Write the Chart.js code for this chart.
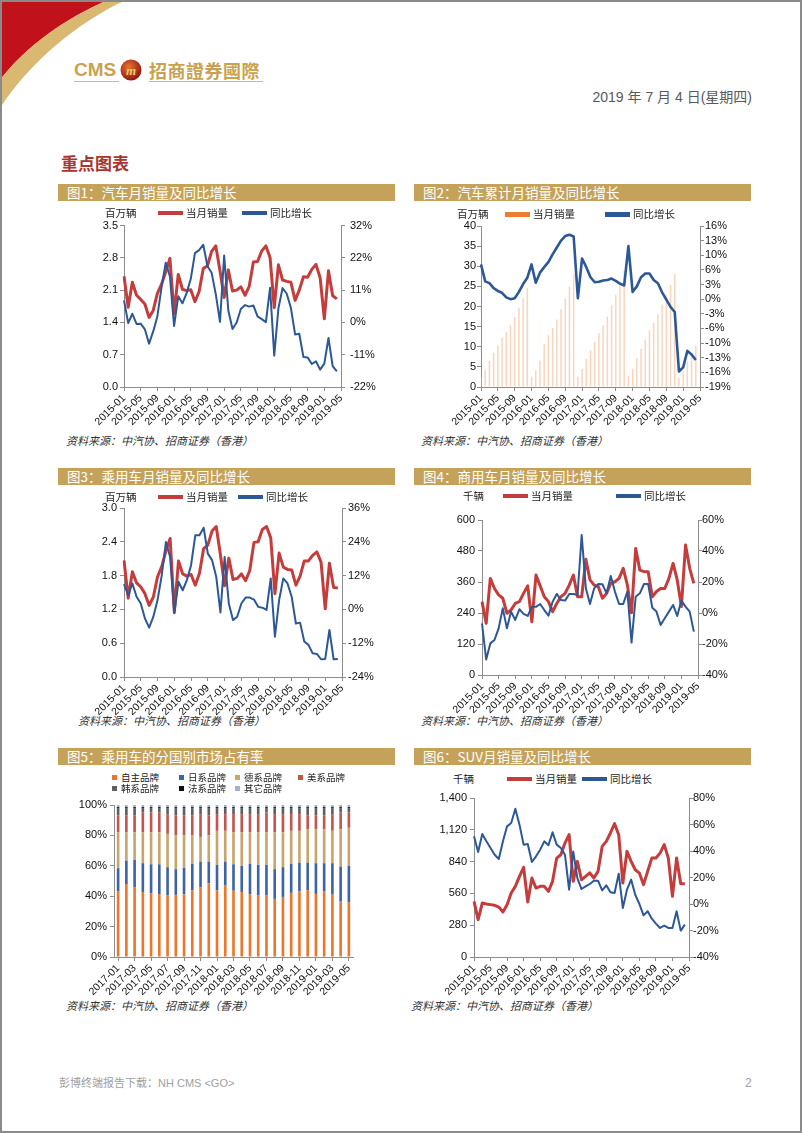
<!DOCTYPE html>
<html lang="zh-CN">
<head>
<meta charset="utf-8">
<title>重点图表</title>
<script src="https://cdn.jsdelivr.net/npm/chart.js@4.4.1/dist/chart.umd.min.js"></script>
<style>
  html, body { margin: 0; padding: 0; background: #fff; }
  #page { position: relative; width: 802px; height: 1133px; overflow: hidden; background: #fff;
          font-family: "Noto Sans CJK SC", "Liberation Sans", sans-serif; }
  #page > * { position: absolute; }
  #frame { left: 0; top: 0; width: 802px; height: 1133px; box-sizing: border-box; border: 2px solid #8a8a8a; }
  .bar { height: 17px; width: 337px; background: #c4a25a; color: #fff; font-size: 13.5px; line-height: 17px;
         padding-left: 9px; box-sizing: border-box; white-space: nowrap; }
  .src { font-size: 11px; line-height: 14px; font-style: italic; color: #333; white-space: nowrap; }
  .legend { display: flex; align-items: center; height: 14px; font-size: 10.5px; line-height: 14px; color: #222; white-space: nowrap; }
  .legend span { display: inline-flex; align-items: center; }
  .legend i { display: inline-block; margin-right: 3px; }
  .unit { font-size: 10.5px; line-height: 14px; color: #222; white-space: nowrap; }
</style>
</head>
<body>
<div id="page">
  <svg style="left:0;top:0" width="140" height="120">
    <path d="M0,0 H108 C66,18 26,46 0,80 Z" fill="#c1121c"/>
    <path d="M108,0 H126 C78,22 30,62 0,108 V80 C26,46 66,18 108,0 Z" fill="#d9b872"/>
  </svg>
  <div style="left:74px;top:60px;font:bold 19px/20px 'Liberation Sans',sans-serif;color:#c9a24f">CMS</div>
  <svg style="left:120px;top:59px" width="22" height="22">
    <defs><radialGradient id="ball" cx="40%" cy="35%" r="65%"><stop offset="0" stop-color="#e8742e"/><stop offset="1" stop-color="#8e1b12"/></radialGradient></defs>
    <circle cx="11" cy="11" r="10.5" fill="url(#ball)"/>
    <text x="11" y="15.5" text-anchor="middle" font-size="13" font-style="italic" font-weight="bold" fill="#f3c86a" font-family="Liberation Serif">m</text>
  </svg>
  <div style="left:149px;top:60px;font-size:18px;line-height:20px;font-weight:700;letter-spacing:0.5px;color:#c9a24f">招商證券國際</div>
  <div style="left:74px;top:81px;width:45px;height:1px;background:#d7b774"></div>
  <div style="left:149px;top:81px;width:114px;height:1px;background:#d7b774"></div>
  <div style="left:540px;top:89px;width:212px;text-align:right;font-size:14px;line-height:16px;color:#595959;font-family:'Liberation Sans','Noto Sans CJK SC',sans-serif">2019 年 7 月 4 日(星期四)</div>
  <div style="left:61px;top:153px;font-size:17px;line-height:20px;font-weight:700;color:#a8352f">重点图表</div>

  <div class="bar" style="left:58px;top:184px">图1：汽车月销量及同比增长</div>
  <div class="bar" style="left:414px;top:184px">图2：汽车累计月销量及同比增长</div>
  <div class="bar" style="left:58px;top:468px">图3：乘用车月销量及同比增长</div>
  <div class="bar" style="left:414px;top:468px">图4：商用车月销量及同比增长</div>
  <div class="bar" style="left:58px;top:748px">图5：乘用车的分国别市场占有率</div>
  <div class="bar" style="left:414px;top:748px">图6：SUV月销量及同比增长</div>

  <div class="src" style="left:66px;top:433px">资料来源：中汽协、招商证券（香港）</div>
  <div class="src" style="left:421px;top:433px">资料来源：中汽协、招商证券（香港）</div>
  <div class="src" style="left:78px;top:713px">资料来源：中汽协、招商证券（香港）</div>
  <div class="src" style="left:421px;top:713px">资料来源：中汽协、招商证券（香港）</div>
  <div class="src" style="left:66px;top:998px">资料来源：中汽协、招商证券（香港）</div>
  <div class="src" style="left:411px;top:998px">资料来源：中汽协、招商证券（香港）</div>

  <div style="left:59px;top:1076px;font-size:11px;line-height:14px;color:#a0a0a0;font-family:'Liberation Sans','Noto Sans CJK SC',sans-serif">彭博终端报告下载：NH CMS &lt;GO&gt;</div>
  <div style="left:745px;top:1076px;font-size:12px;line-height:14px;color:#a0a0a0;font-family:'Liberation Sans',sans-serif">2</div>
</div>
<script>
// ---- data ----
const months = [
  '2015-01','2015-02','2015-03','2015-04','2015-05','2015-06','2015-07','2015-08','2015-09','2015-10','2015-11','2015-12',
  '2016-01','2016-02','2016-03','2016-04','2016-05','2016-06','2016-07','2016-08','2016-09','2016-10','2016-11','2016-12',
  '2017-01','2017-02','2017-03','2017-04','2017-05','2017-06','2017-07','2017-08','2017-09','2017-10','2017-11','2017-12',
  '2018-01','2018-02','2018-03','2018-04','2018-05','2018-06','2018-07','2018-08','2018-09','2018-10','2018-11','2018-12',
  '2019-01','2019-02','2019-03','2019-04','2019-05'
];
const shareMonths = [
  '2017-01','2017-02','2017-03','2017-04','2017-05','2017-06','2017-07','2017-08','2017-09','2017-10','2017-11','2017-12',
  '2018-01','2018-02','2018-03','2018-04','2018-05','2018-06','2018-07','2018-08','2018-09','2018-10','2018-11','2018-12',
  '2019-01','2019-02','2019-03','2019-04','2019-05'
];

// 图1 (million units, % yoy)
const autoSales = [2.40,1.73,2.27,1.99,1.90,1.80,1.51,1.66,2.03,2.23,2.50,2.79,
  1.59,2.44,2.12,2.09,2.11,1.85,2.07,2.57,2.63,2.94,3.06,
  2.52,1.94,2.54,2.08,2.10,2.17,1.99,2.18,2.71,2.72,2.95,3.06,
  2.81,1.72,2.65,2.32,2.29,2.27,1.88,2.10,2.39,2.38,2.55,2.66,
  2.37,1.48,2.52,1.98,1.91];
const autoYoy = [7.4,-0.2,2.9,-0.5,-0.4,-2.3,-7.1,-3.0,2.1,11.8,20.0,15.4,
  -1.2,8.8,6.4,9.8,14.6,23.2,24.2,26.0,18.8,16.6,9.4,
  0.2,22.4,4.0,-2.2,0.0,4.5,5.8,5.3,5.7,2.0,1.1,0.1,
  11.6,-11.1,4.7,11.5,9.6,4.8,-4.0,-3.8,-11.6,-11.7,-13.9,-13.0,
  -15.8,-13.8,-5.2,-14.6,-16.4];

// 图2 (cumulative, million units, % yoy)
const cumSales = [2.50,4.23,6.50,8.49,10.39,12.19,13.70,15.36,17.39,19.62,22.12,24.60,
  2.51,4.10,6.54,10.75,12.83,14.68,16.75,19.32,21.95,24.89,28.03,
  2.52,4.46,7.00,9.08,11.18,13.35,15.34,17.52,20.23,22.95,25.90,28.88,
  2.81,4.53,7.18,9.50,11.79,14.07,15.95,18.05,20.44,22.82,25.37,28.08,
  2.37,3.85,6.37,8.35,10.26];
const cumYoy = [7.6,3.9,3.5,2.4,1.8,1.4,0.4,0.0,0.2,1.6,3.3,4.7,
  7.6,3.6,5.8,7.0,8.1,9.8,11.3,12.8,13.8,14.1,13.7,
  0.2,8.9,7.0,4.8,3.7,3.8,4.1,4.2,4.5,4.0,3.4,3.0,
  11.6,1.6,2.8,4.8,5.6,5.6,4.2,3.5,1.5,-0.1,-1.7,-2.8,
  -15.8,-14.9,-11.3,-12.1,-13.3];

// 图3 passenger cars
const pvSales = [2.07,1.40,1.87,1.67,1.60,1.48,1.27,1.42,1.78,1.96,2.24,2.46,
  1.15,2.06,1.83,1.79,1.82,1.63,1.84,2.28,2.34,2.59,2.67,
  2.17,1.62,2.11,1.73,1.75,1.83,1.71,1.89,2.39,2.40,2.62,2.67,
  2.47,1.48,2.20,1.95,1.91,1.90,1.63,1.79,2.06,2.06,2.16,2.22,
  2.04,1.21,2.02,1.59,1.58];
const pvYoy = [9.0,5.1,9.2,4.5,2.1,-3.2,-6.5,-2.6,3.3,12.1,23.9,18.6,
  -1.4,9.8,6.8,10.4,15.7,26.3,26.3,29.0,19.8,17.5,11.6,-1.1,
  18.6,2.1,-3.8,-2.6,2.1,4.2,4.2,3.5,0.9,0.6,-0.2,11.0,
  -9.7,3.3,11.0,9.2,4.5,-5.0,-4.7,-11.4,-12.6,-15.6,-15.8,-17.7,
  -17.6,-7.3,-17.7,-17.6];

// 图4 commercial vehicles (thousand units)
const cvSales = [284,200,374,335,310,297,239,252,277,284,316,345,
  206,387,345,303,284,245,277,303,316,348,387,303,
  303,448,368,348,342,297,316,355,361,374,413,348,
  241,490,406,400,400,303,323,335,335,374,432,368,
  265,503,413,355];
const cvYoy = [-6.7,-30.0,-19.6,-17.4,-9.9,3.0,-9.9,0.9,-4.5,2.4,-0.6,-1.9,
  4.0,4.0,5.8,1.9,-1.7,7.3,12.3,8.4,8.0,12.3,12.3,11.6,
  50.3,15.9,5.8,15.9,18.7,18.5,12.7,23.9,13.8,5.8,5.8,13.8,
  -19.1,10.5,12.7,18.7,18.7,3.4,0.9,-7.7,-3.4,0.9,5.2,-1.9,
  8.0,4.1,0.9,-12.0];

// 图5 market share by brand origin (%)
const brandNames = ['自主品牌','日系品牌','德系品牌','美系品牌','韩系品牌','法系品牌','其它品牌'];
const shareOwn = [43.3,48.0,45.7,42.8,42.0,41.4,40.4,40.9,41.2,43.8,45.7,48.5,43.9,47.4,43.6,42.8,41.2,40.4,40.4,38.2,39.5,42.2,43.3,43.9,41.5,43.0,41.0,36.8,36.0];
const shareJapan = [15.1,15.4,18.2,18.9,19.0,19.6,18.7,16.9,17.4,17.4,17.1,14.3,16.7,15.4,17.4,17.1,20.0,20.2,20.2,19.6,19.6,19.0,18.8,18.2,20.2,18.7,20.7,22.7,23.9];
const shareGerman = [23.6,18.6,18.1,20.3,21.0,21.0,21.9,22.2,21.4,18.8,16.2,17.2,22.4,20.2,21.0,22.1,20.8,21.4,21.4,24.2,22.9,21.8,20.9,21.9,22.3,22.3,21.3,24.5,25.1];
const shareUS = [11,11,11,13,13,13,13,13,13,13,15,13,11,11,12,12,12,12,13,12,12,11,11,9,9,9,11,11,10];
const shareKorea = [5,5,5,3,3,3,4,5,5,5,4,5,4,4,4,4,4,4,3,4,4,4,4,5,5,5,4,3,3];
const shareFrance = [0.6,0.6,0.6,0.6,0.6,0.6,0.6,0.6,0.6,0.6,0.6,0.6,0.6,0.6,0.6,0.6,0.6,0.6,0.6,0.6,0.6,0.6,0.6,0.6,0.6,0.6,0.6,0.6,0.6];
const shareOther = [1.4,1.4,1.4,1.4,1.4,1.4,1.4,1.4,1.4,1.4,1.4,1.4,1.4,1.4,1.4,1.4,1.4,1.4,1.4,1.4,1.4,1.4,1.4,1.4,1.4,1.4,1.4,1.4,1.4];

// 图6 SUV (thousand units)
const suvSales = [490,329,475,467,461,455,440,396,461,564,622,710,
  789,484,695,607,622,622,578,666,871,900,1003,1077,
  666,842,680,710,740,695,754,974,1018,1092,1174,1077,
  651,930,842,768,739,637,754,871,871,915,989,871,
  534,871,645,645];
const suvYoy = [51.1,39.2,52.8,47.3,42.3,37.2,34.0,47.3,58.6,61.1,71.9,59.9,
  44.8,45.3,31.7,36.0,41.0,47.3,44.3,54.1,44.8,42.3,37.2,10.8,
  39.7,19.6,11.3,13.3,15.1,17.6,17.6,10.3,14.1,8.8,8.3,22.9,
  -3.0,10.8,18.4,7.0,0.0,-8.6,-5.5,-11.1,-14.8,-18.1,-16.4,-18.1,
  -18.1,-5.5,-20.1,-15.6];

// ---- drawing ----
const page = document.getElementById('page');
const AXIS = '#8c8c8c';
const RED = '#c43d3c';
const BLUE = '#2d5896';
const M = { l: 50, r: 50, t: 10, b: 45 };

Chart.defaults.font.family = "'Liberation Sans', Arial, sans-serif";
Chart.defaults.font.size = 11;
Chart.defaults.color = '#111';
Chart.defaults.animation = false;

function makeCanvas(area, m) {
  const c = document.createElement('canvas');
  const left = Math.round(area.l - m.l), top = Math.round(area.t - m.t);
  const w = Math.round(area.r + m.r) - left, h = Math.round(area.b + m.b) - top;
  c.width = w; c.height = h;
  Object.assign(c.style, { left: left + 'px', top: top + 'px', width: w + 'px', height: h + 'px' });
  page.appendChild(c);
  return c;
}

function addUnit(text, x, cy) {
  const d = document.createElement('div');
  d.className = 'unit';
  d.textContent = text;
  Object.assign(d.style, { left: x + 'px', top: (cy - 7) + 'px' });
  page.appendChild(d);
}

function addLegend(items, x, cy, stride, sw) {
  const d = document.createElement('div');
  d.className = 'legend';
  Object.assign(d.style, { left: x + 'px', top: (cy - 7) + 'px' });
  items.forEach((it, i) => {
    const s = document.createElement('span');
    if (i < items.length - 1) s.style.width = stride + 'px';
    s.innerHTML = '<i style="width:' + sw[0] + 'px;height:' + sw[1] + 'px;background:' + it.color + '"></i>' + it.label;
    d.appendChild(s);
  });
  page.appendChild(d);
}

function valueAxis(position, min, max, step, fmt, width, pad) {
  return {
    position, min, max,
    afterFit: (s) => { s.width = width; },
    border: { color: AXIS },
    grid: { drawOnChartArea: false, tickLength: 4, color: AXIS },
    ticks: { stepSize: step, autoSkip: false, padding: pad, font: { size: 11 }, callback: fmt }
  };
}

function monthAxis(every, offset, height) {
  return {
    offset,
    afterFit: (s) => { s.height = height; },
    afterBuildTicks: (s) => { s.ticks = s.ticks.filter((t) => t.value % every === 0); },
    border: { color: AXIS },
    grid: { drawOnChartArea: false, tickLength: 4, color: AXIS, offset: false },
    ticks: { autoSkip: false, minRotation: 45, maxRotation: 45, padding: 1, font: { size: 10.5 } }
  };
}

const fixed1 = (v) => v.toFixed(1);
const pct = (v) => Math.round(v) + '%';
const plain = (v) => v;
const comma = (v) => v.toLocaleString('en-US');

function dualLine(c) {
  const canvas = makeCanvas(c.area, M);
  new Chart(canvas, {
    type: 'line',
    data: {
      labels: months,
      datasets: [
        { label: '当月销量', data: c.sales, yAxisID: 'y', order: 2, borderColor: RED, borderWidth: 3,
          pointRadius: 0, borderJoinStyle: 'round', tension: 0 },
        { label: '同比增长', data: c.yoy, yAxisID: 'y1', order: 1, borderColor: BLUE, borderWidth: 2,
          pointRadius: 0, borderJoinStyle: 'round', tension: 0 }
      ]
    },
    options: {
      responsive: false,
      layout: { padding: { top: M.t } },
      plugins: { legend: { display: false }, tooltip: { enabled: false } },
      scales: {
        x: monthAxis(4, false, M.b),
        y: valueAxis('left', c.left[0], c.left[1], c.left[2], c.left[3], M.l, c.pads[0]),
        y1: valueAxis('right', c.right[0], c.right[1], c.right[2], pct, M.r, c.pads[1])
      }
    }
  });
  addUnit(c.unit, c.unitX, c.legendY);
  addLegend([{ label: '当月销量', color: RED }, { label: '同比增长', color: BLUE }], c.legendX, c.legendY, c.stride, [25, 4]);
}

// 图1
dualLine({
  area: { l: 124, r: 341, t: 224, b: 387 },
  sales: autoSales, yoy: autoYoy,
  left: [0, 3.5, 0.7, fixed1], right: [-21.6, 32.4, 10.8], pads: [2, 5],
  unit: '百万辆', unitX: 105, legendX: 158, legendY: 213, stride: 84
});

// 图3
dualLine({
  area: { l: 124, r: 342, t: 508, b: 677 },
  sales: pvSales, yoy: pvYoy,
  left: [0, 3.0, 0.6, fixed1], right: [-24, 36, 12], pads: [3, 2],
  unit: '百万辆', unitX: 105, legendX: 158, legendY: 497, stride: 80
});

// 图4
dualLine({
  area: { l: 482, r: 698, t: 520, b: 675 },
  sales: cvSales, yoy: cvYoy,
  left: [0, 600, 120, plain], right: [-40, 60, 20], pads: [3, 0],
  unit: '千辆', unitX: 463, legendX: 503, legendY: 496, stride: 113
});

// 图6
dualLine({
  area: { l: 474, r: 689, t: 798, b: 957 },
  sales: suvSales, yoy: suvYoy,
  left: [0, 1400, 280, comma], right: [-40, 80, 20], pads: [3, 0],
  unit: '千辆', unitX: 453, legendX: 507, legendY: 779, stride: 75
});

// 图2: cumulative bars + cumulative yoy line
(function () {
  const area = { l: 481, r: 700, t: 226, b: 387 };
  const ORANGE = '#ed7d31';
  new Chart(makeCanvas(area, M), {
    type: 'bar',
    data: {
      labels: months,
      datasets: [
        { type: 'bar', label: '当月销量', data: cumSales, yAxisID: 'y', order: 2,
          backgroundColor: 'rgba(244,178,134,0.55)', barPercentage: 0.36, categoryPercentage: 1 },
        { type: 'line', label: '同比增长', data: cumYoy, yAxisID: 'y1', order: 1, borderColor: BLUE,
          borderWidth: 2.6, pointRadius: 0, borderJoinStyle: 'round', tension: 0 }
      ]
    },
    options: {
      responsive: false,
      layout: { padding: { top: M.t } },
      plugins: { legend: { display: false }, tooltip: { enabled: false } },
      scales: {
        x: monthAxis(4, false, M.b),
        y: valueAxis('left', 0, 40, 5, plain, M.l, 1),
        y1: valueAxis('right', -19.2, 16, 3.2, pct, M.r, 1)
      }
    }
  });
  addUnit('百万辆', 457, 214);
  addLegend([{ label: '当月销量', color: ORANGE }, { label: '同比增长', color: BLUE }], 505, 214, 100, [25, 5]);
})();

// 图5: stacked share bars
(function () {
  const area = { l: 114, r: 353, t: 805, b: 957 };
  const colors = ['#ea772c', '#3f64a6', '#c8a56d', '#c0564f', '#606060', '#111111', '#9db2d4'];
  const series = [shareOwn, shareJapan, shareGerman, shareUS, shareKorea, shareFrance, shareOther];
  const m = { l: 45, r: 10, t: 10, b: 50 };
  new Chart(makeCanvas(area, m), {
    type: 'bar',
    data: {
      labels: shareMonths,
      datasets: series.map((s, i) => ({
        label: brandNames[i], data: s, backgroundColor: colors[i], barPercentage: 0.32, categoryPercentage: 1
      }))
    },
    options: {
      responsive: false,
      layout: { padding: { top: m.t, right: m.r } },
      plugins: { legend: { display: false }, tooltip: { enabled: false } },
      scales: {
        x: Object.assign(monthAxis(2, true, m.b), { stacked: true }),
        y: Object.assign(valueAxis('left', 0, 100, 20, (v) => v + '%', m.l, 3), { stacked: true })
      }
    }
  });
  // legend: two rows, four columns
  const cols = [112, 179, 235, 298];
  brandNames.forEach((name, i) => {
    const d = document.createElement('div');
    d.className = 'legend';
    d.style.fontSize = '9.5px';
    Object.assign(d.style, { left: cols[i % 4] + 'px', top: (777 + 11 * Math.floor(i / 4) - 7) + 'px' });
    d.innerHTML = '<span><i style="width:5px;height:5px;background:' + colors[i] + ';margin-right:4px"></i>' + name + '</span>';
    page.appendChild(d);
  });
})();

// frame on top
const frame = document.createElement('div');
frame.id = 'frame';
page.appendChild(frame);
</script>
</body>
</html>
